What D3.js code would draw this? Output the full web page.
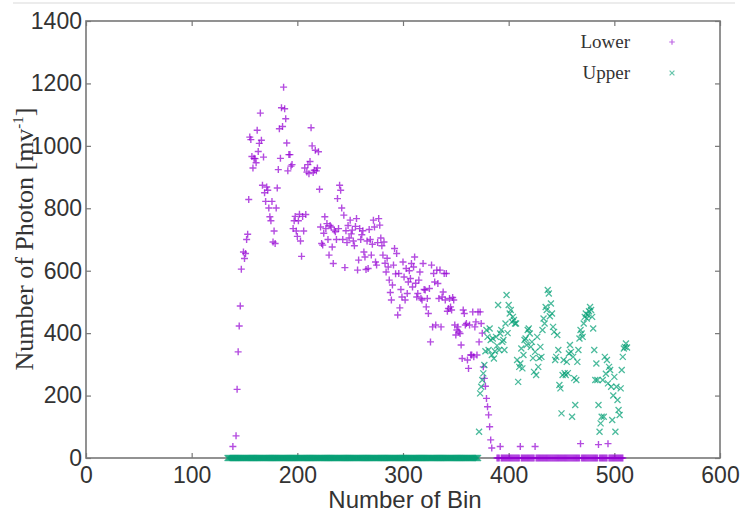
<!DOCTYPE html>
<html><head><meta charset="utf-8">
<script src="https://cdn.jsdelivr.net/npm/d3@7"></script>
<style>html,body{margin:0;padding:0;background:#fff;}</style>
</head><body>
<svg id="chart" width="740" height="517"></svg>
<script>
// ---------- data ----------
const binStart = 134; // first bin of both series
const xTicks = [0, 100, 200, 300, 400, 500, 600];
const yTicks = [0, 200, 400, 600, 800, 1000, 1200, 1400];
const seriesNames = ["Lower", "Upper"];
const lowerValues = [
  /*134*/ null,null,null,null,null,37,null,null,71,220,
  /*144*/ 340,423,487,605,null,660,639,655,700,717,
  /*154*/ 828,1028,1020,966,929,960,959,946,1050,982,
  /*164*/ 1008,1105,1018,874,964,850,822,868,858,801,
  /*174*/ 773,760,822,692,727,687,801,865,924,1055,
  /*184*/ 960,1122,1062,1188,1119,1087,1009,920,972,972,
  /*194*/ 935,940,735,760,774,727,710,760,781,695,
  /*204*/ 646,774,727,929,780,916,940,911,950,1058,
  /*214*/ 1000,915,922,986,920,929,981,861,740,687,
  /*224*/ 682,720,773,735,751,700,650,745,740,676,
  /*234*/ 623,730,725,700,831,735,874,858,801,700,
  /*244*/ 778,610,728,690,745,705,762,718,730,695,
  /*254*/ 680,742,767,602,634,735,700,715,728,660,
  /*264*/ 644,604,695,607,732,700,650,685,762,740,
  /*274*/ 628,618,690,767,746,705,680,650,692,624,
  /*284*/ 596,640,612,570,530,506,554,618,671,590,
  /*294*/ 655,458,591,481,540,516,628,580,506,607,
  /*304*/ 527,564,600,575,623,548,612,644,560,516,
  /*314*/ 527,570,596,511,506,623,540,538,484,511,
  /*324*/ 463,543,372,618,420,591,564,426,602,559,
  /*334*/ 511,602,420,516,532,591,506,591,470,479,
  /*344*/ 511,484,474,514,506,426,394,410,420,404,
  /*354*/ 399,362,319,474,463,426,431,314,287,426,
  /*364*/ 330,330,468,324,420,436,330,468,372,468,
  /*374*/ 431,400,292,255,230,191,164,138,100,58,
  /*384*/ 32,null,null,null,null,0,0,0,37,0,
  /*394*/ 0,0,0,0,0,0,0,0,0,0,
  /*404*/ 0,0,0,0,0,0,0,37,0,0,
  /*414*/ 0,0,0,0,0,0,0,0,0,0,
  /*424*/ 0,37,0,0,0,0,0,0,0,0,
  /*434*/ 0,0,0,0,0,0,0,0,0,0,
  /*444*/ 0,0,0,0,0,0,0,0,0,0,
  /*454*/ 0,0,0,0,0,0,0,0,0,0,
  /*464*/ 0,0,0,0,46,0,0,0,0,0,
  /*474*/ 0,0,0,0,0,0,0,0,0,0,
  /*484*/ 0,43,0,0,0,0,0,0,0,0,
  /*494*/ 46,0,0,0,0,0,0,0,0,0,
  /*504*/ 0,0,0,0,0,null,null,null,null
];
const upperValues = [
  /*134*/ 0,0,0,0,0,0,0,0,0,0,
  /*144*/ 0,0,0,0,0,0,0,0,0,0,
  /*154*/ 0,0,0,0,0,0,0,0,0,0,
  /*164*/ 0,0,0,0,0,0,0,0,0,0,
  /*174*/ 0,0,0,0,0,0,0,0,0,0,
  /*184*/ 0,0,0,0,0,0,0,0,0,0,
  /*194*/ 0,0,0,0,0,0,0,0,0,0,
  /*204*/ 0,0,0,0,0,0,0,0,0,0,
  /*214*/ 0,0,0,0,0,0,0,0,0,0,
  /*224*/ 0,0,0,0,0,0,0,0,0,0,
  /*234*/ 0,0,0,0,0,0,0,0,0,0,
  /*244*/ 0,0,0,0,0,0,0,0,0,0,
  /*254*/ 0,0,0,0,0,0,0,0,0,0,
  /*264*/ 0,0,0,0,0,0,0,0,0,0,
  /*274*/ 0,0,0,0,0,0,0,0,0,0,
  /*284*/ 0,0,0,0,0,0,0,0,0,0,
  /*294*/ 0,0,0,0,0,0,0,0,0,0,
  /*304*/ 0,0,0,0,0,0,0,0,0,0,
  /*314*/ 0,0,0,0,0,0,0,0,0,0,
  /*324*/ 0,0,0,0,0,0,0,0,0,0,
  /*334*/ 0,0,0,0,0,0,0,0,0,0,
  /*344*/ 0,0,0,0,0,0,0,0,0,0,
  /*354*/ 0,0,0,0,0,0,0,0,0,0,
  /*364*/ 0,0,0,0,0,0,0,0,
  /*372*/ 84,207,228,250,271,298,342,410,388,346,
  /*382*/ 415,378,330,383,319,342,388,360,490,346,
  /*392*/ 399,410,372,378,346,431,522,400,490,463,
  /*402*/ 474,436,452,442,431,431,314,244,292,303,
  /*412*/ 351,287,330,378,383,362,410,415,399,356,
  /*422*/ 372,320,276,340,266,388,292,320,356,324,
  /*432*/ 410,447,431,484,474,538,527,454,495,463,
  /*442*/ 420,404,314,324,394,346,234,223,143,266,
  /*452*/ 314,272,266,308,272,335,362,340,132,324,
  /*462*/ 256,170,250,308,346,383,410,399,388,431,
  /*472*/ 452,463,447,458,470,484,474,452,415,346,
  /*482*/ 250,303,250,170,84,111,132,250,132,324,
  /*492*/ 270,314,239,292,282,228,122,200,260,84,
  /*502*/ 228,186,154,138,223,282,324,351,356,367,354
];

// ---------- layout ----------
const W = 740, H = 517;
const m = {left: 86, right: 720, top: 21, bottom: 458};
const colors = {Lower: "#9400d3", Upper: "#009e73"};
const svg = d3.select("#chart");

const x = d3.scaleLinear().domain([0, 600]).range([m.left, m.right]);
const y = d3.scaleLinear().domain([0, 1400]).range([m.bottom, m.top]);

const defs = svg.append("defs");
defs.append("filter").attr("id", "soft").attr("x", "-5%").attr("y", "-5%").attr("width", "110%").attr("height", "110%")
  .append("feGaussianBlur").attr("stdDeviation", 0.55);

// faint line at very top (page artifact)
svg.append("line").attr("x1", 13).attr("x2", 735).attr("y1", 3).attr("y2", 3)
  .attr("stroke", "#ececec").attr("stroke-width", 2);

const fontSans = "'Liberation Sans', Arial, Helvetica, sans-serif";
const fontSerif = "'Liberation Serif', 'Times New Roman', serif";

// axes
function styleAxis(g) {
  g.select(".domain").remove();
  g.selectAll(".tick line").attr("stroke", "#777").attr("stroke-width", 1.2);
  g.selectAll(".tick text").attr("fill", "#333").style("font-family", fontSans).style("font-size", "23px");
}
svg.append("g").attr("transform", `translate(0,${m.bottom})`)
  .call(d3.axisBottom(x).tickValues(xTicks).tickSizeInner(-5).tickSizeOuter(0).tickPadding(9).tickFormat(d3.format("d")))
  .call(styleAxis);
svg.append("g").attr("transform", `translate(${m.left},0)`)
  .call(d3.axisLeft(y).tickValues(yTicks).tickSizeInner(-5).tickSizeOuter(0).tickPadding(4).tickFormat(d3.format("d")))
  .call(styleAxis);
svg.append("g").attr("transform", `translate(0,${m.top})`)
  .call(d3.axisTop(x).tickValues(xTicks).tickSizeInner(-5).tickSizeOuter(0).tickFormat(""))
  .call(styleAxis);
svg.append("g").attr("transform", `translate(${m.right},0)`)
  .call(d3.axisRight(y).tickValues(yTicks).tickSizeInner(-5).tickSizeOuter(0).tickFormat(""))
  .call(styleAxis);

// frame
svg.append("rect").attr("x", m.left).attr("y", m.top)
  .attr("width", m.right - m.left).attr("height", m.bottom - m.top)
  .attr("fill", "none").attr("stroke", "#777").attr("stroke-width", 1.6);

// markers
const plusPath = "M-3.5,0H3.5M0,-3.5V3.5";
const crossPath = "M-3,-3L3,3M-3,3L3,-3";
const toPoints = vals => vals.map((v, i) => ({bin: binStart + i, v})).filter(d => d.v !== null);

const plot = svg.append("g").attr("filter", "url(#soft)");
plot.append("g").selectAll("path").data(toPoints(lowerValues)).join("path")
  .attr("d", plusPath)
  .attr("transform", d => `translate(${x(d.bin)},${y(d.v)})`)
  .attr("fill", "none").attr("stroke", colors.Lower).attr("stroke-opacity", 0.7).attr("stroke-width", 1.4);
plot.append("g").selectAll("path").data(toPoints(upperValues)).join("path")
  .attr("d", crossPath)
  .attr("transform", d => `translate(${x(d.bin)},${y(d.v)})`)
  .attr("fill", "none").attr("stroke", colors.Upper).attr("stroke-opacity", 0.7).attr("stroke-width", 1.3);

// legend
const legend = svg.append("g");
seriesNames.forEach((name, i) => {
  const ly = 42 + i * 31;
  legend.append("text").attr("x", 630).attr("y", ly + 6).attr("text-anchor", "end")
    .attr("fill", "#333").style("font-family", fontSerif).style("font-size", "19px").text(name);
  legend.append("path").attr("d", i === 0 ? plusPath : crossPath)
    .attr("transform", `translate(672,${ly}) scale(0.8)`)
    .attr("fill", "none").attr("stroke", colors[name]).attr("stroke-opacity", 0.6).attr("stroke-width", 1.5)
    .attr("filter", "url(#soft)");
});

// axis titles
svg.append("text").attr("x", (m.left + m.right) / 2 + 2).attr("y", 508).attr("text-anchor", "middle")
  .attr("fill", "#333").style("font-family", fontSans).style("font-size", "24px").text("Number of Bin");

const yl = svg.append("text").attr("transform", "translate(33,239) rotate(-90)").attr("text-anchor", "middle")
  .attr("fill", "#333").style("font-family", fontSerif).style("font-size", "26px");
yl.append("tspan").text("Number of Photon [mv");
yl.append("tspan").attr("dy", -10).style("font-size", "15px").text("-1");
yl.append("tspan").attr("dy", 10).text("]");
</script>
</body></html>
